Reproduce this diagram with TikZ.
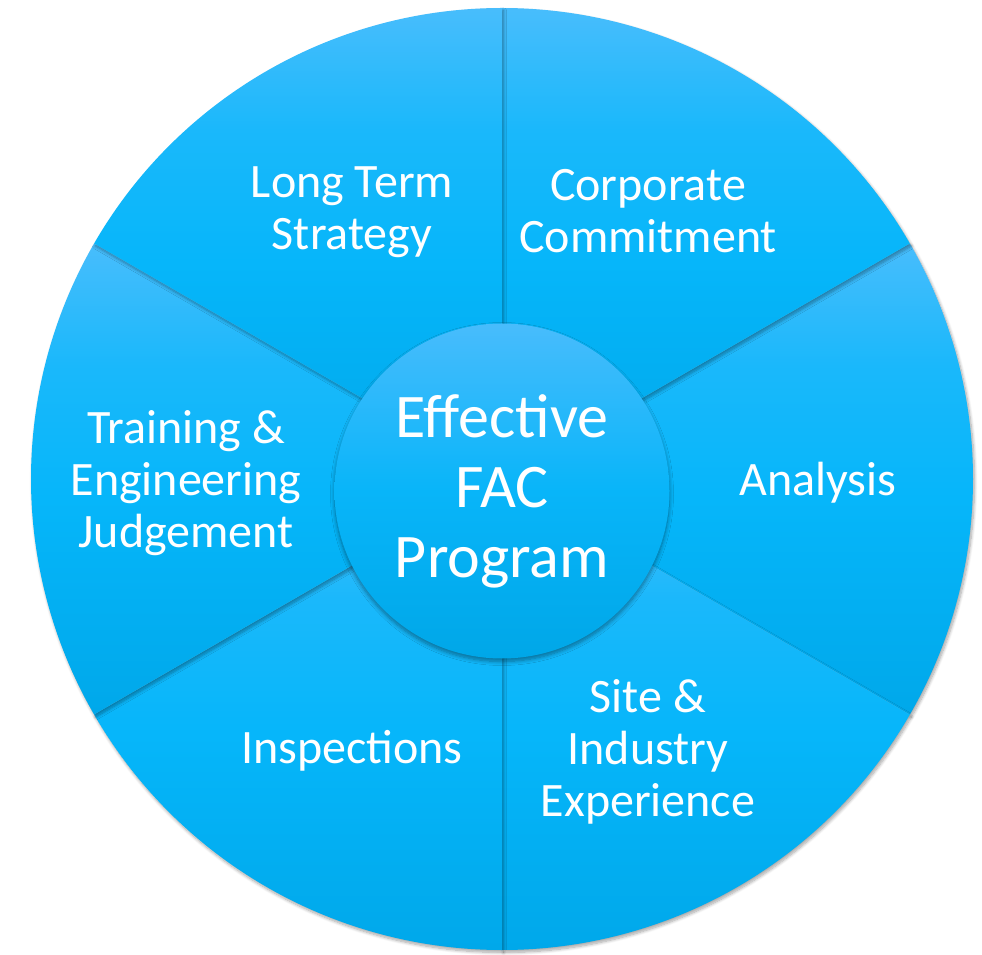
\documentclass[tikz,border=0pt]{standalone}
\usepackage{fontspec}
\setmainfont{Carlito}
\usetikzlibrary{shadows.blur}

\definecolor{segtop}{RGB}{72,189,252}
\definecolor{segmid}{RGB}{6,182,250}
\definecolor{segbot}{RGB}{0,168,234}
\definecolor{hubtop}{RGB}{72,188,252}
\definecolor{hubmid}{RGB}{8,181,249}
\definecolor{hubbot}{RGB}{0,167,232}

% vertical gradient of a segment: light rim at the top, vivid body
\pgfdeclareverticalshading{segshade}{100bp}{%
  color(0bp)=(segbot); color(25bp)=(segbot); color(48bp)=(segmid);
  color(62bp)=(segmid!70!segtop); color(75bp)=(segtop); color(100bp)=(segtop)}
\pgfdeclareverticalshading{hubshade}{100bp}{%
  color(0bp)=(hubbot); color(25bp)=(hubbot); color(50bp)=(hubmid);
  color(75bp)=(hubtop); color(100bp)=(hubtop)}

\tikzset{
  segment/.style={shading=segshade,
    blur shadow={shadow xshift=1.5pt, shadow yshift=-2.5pt,
      shadow blur radius=3pt, shadow opacity=35, shadow blur steps=8}},
  hub/.style={circle, minimum size=335pt, inner sep=0pt, shading=hubshade,
    blur shadow={shadow xshift=0pt, shadow yshift=-3pt,
      shadow blur radius=4pt, shadow opacity=40, shadow blur steps=8},
    text=white, align=center, font=\fontsize{62}{70}\selectfont},
  seglabel/.style={text=white, align=center, inner sep=0pt,
    font=\fontsize{48}{52}\selectfont}
}

\begin{document}
\begin{tikzpicture}[x=1pt,y=1pt]
  \useasboundingbox (0,0) rectangle (982,954);
  \coordinate (O) at (502,475);
  \def\R{471}

  % six pie segments, drawn so each casts its shadow on its neighbour
  \path[segment] (O) -- ++(-30:\R) arc[start angle=-30, end angle=30, radius=\R] -- cycle;
  \path[segment] (O) -- ++(-90:\R) arc[start angle=-90, end angle=-30, radius=\R] -- cycle;
  \path[segment] (O) -- ++(210:\R) arc[start angle=210, end angle=270, radius=\R] -- cycle;
  \path[segment] (O) -- ++(150:\R) arc[start angle=150, end angle=210, radius=\R] -- cycle;
  \path[segment] (O) -- ++(30:\R) arc[start angle=30, end angle=90, radius=\R] -- cycle;
  \path[segment] (O) -- ++(90:\R) arc[start angle=90, end angle=150, radius=\R] -- cycle;

  % segment labels
  \node[seglabel] (lts) at (352,742) {Long Term\\Strategy};
  \node[seglabel] (cc)  at (648,743) {Corporate\\Commitment};
  \node[seglabel] (an)  at (818,471) {Analysis};
  \node[seglabel] (sie) at (648,202) {Site \&\\Industry\\Experience};
  \node[seglabel] (ins) at (352,203) {Inspections};
  \node[seglabel] (tej) at (186,471) {Training \&\\Engineering\\Judgement};

  % central hub
  \node[hub] (hub) at (502,463) {Effective\\FAC\\Program};
\end{tikzpicture}
\end{document}
